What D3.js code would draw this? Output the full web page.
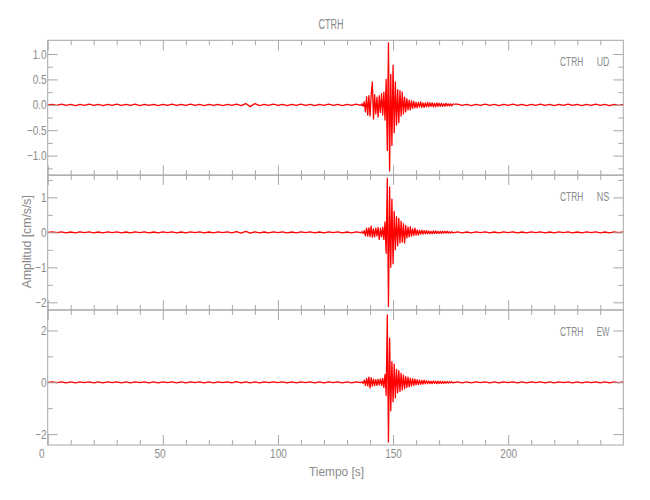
<!DOCTYPE html>
<html>
<head>
<meta charset="utf-8">
<script src="https://cdn.jsdelivr.net/npm/d3@7"></script>
<style>
  body { margin: 0; background: #fff; }
  svg { display: block; }
  text { font-family: "Liberation Sans", Arimo, "DejaVu Sans", sans-serif; fill: #8a8a8a; }
</style>
</head>
<body>
<svg id="chart" width="650" height="500"></svg>
<script>
// ---------------- data ----------------
const station = "CTRH";
const components = ["UD", "NS", "EW"];
const timeDomain = [0, 250];
const xMajorTicks = [0, 50, 100, 150, 200];
const xMinorTicks = [10, 20, 30, 40, 60, 70, 80, 90, 110, 120, 130, 140, 160, 170, 180, 190, 210, 220, 230, 240];

const preStart = 0, preStep = 2;           // quiet noise before the event
const eventStart = 136.5, eventStep = 0.5; // strong-motion window
const postStart = 178, postStep = 2;       // quiet noise after the event

// UD component [cm/s/s]
const udPre = [0,0.01,-0.01,0.015,-0.01,0.01,-0.015,0.01,-0.01,0.015,
  -0.01,0.01,-0.015,0.01,-0.01,0.015,-0.01,0.01,-0.01,0.015,
  -0.015,0.01,-0.01,0.01,-0.015,0.01,-0.01,0.015,-0.01,0.01,
  -0.01,0.015,-0.01,0.01,-0.015,0.01,-0.01,0.01,-0.015,0.01,
  -0.01,0.015,-0.015,0.025,-0.035,0.025,-0.015,0.01,-0.01,0.015,
  -0.01,0.01,-0.015,0.01,-0.01,0.015,-0.01,0.01,-0.015,0.01,
  -0.01,0.015,-0.01,0.01,-0.015,0.01,-0.01,0.015,-0.01];
const udEvent = [0.02,-0.03,0.06,-0.14,0.16,-0.2,0.18,-0.22,0.2,0.45,
  -0.28,0.2,-0.18,0.15,-0.24,0.18,-0.15,0.22,-0.2,0.25,
  -0.3,0.5,-0.9,1.22,-1.3,0.6,-0.8,0.78,-0.55,0.45,
  -0.4,0.3,-0.35,0.28,-0.22,0.25,-0.18,0.15,-0.14,0.12,
  -0.1,0.09,-0.1,0.08,-0.07,0.07,-0.06,0.05,-0.06,0.05,
  -0.04,0.06,-0.05,0.04,-0.05,0.04,-0.04,0.05,-0.04,0.04,
  -0.03,0.04,-0.04,0.03,-0.04,0.04,-0.03,0.03,-0.03,0.03,
  -0.03,0.02,-0.03,0.03,-0.02,0.02,-0.02,0.02,-0.02,0.015];
const udPost = [0.015,-0.01,0.01,-0.015,0.01,-0.01,0.015,-0.01,0.01,-0.015,
  0.01,-0.01,0.015,-0.01,0.01,-0.015,0.01,-0.01,0.015,-0.01,
  0.01,-0.015,0.01,-0.01,0.015,-0.01,0.01,-0.015,0.01,-0.01,
  0.015,-0.01,0.01,-0.015,0.01,-0.01,0.01];

// NS component [cm/s/s]
const nsPre = [0,0.015,-0.01,0.015,-0.015,0.01,-0.015,0.015,-0.01,0.015,
  -0.015,0.01,-0.015,0.015,-0.01,0.015,-0.015,0.01,-0.015,0.015,
  -0.01,0.015,-0.015,0.01,-0.015,0.015,-0.01,0.015,-0.015,0.01,
  -0.015,0.015,-0.01,0.015,-0.015,0.01,-0.015,0.015,-0.01,0.015,
  -0.015,0.02,-0.02,0.03,-0.02,0.015,-0.015,0.01,-0.015,0.015,
  -0.01,0.015,-0.015,0.01,-0.015,0.015,-0.01,0.015,-0.015,0.01,
  -0.015,0.015,-0.01,0.015,-0.015,0.01,-0.015,0.015,-0.01];
const nsEvent = [0.02,-0.03,0.05,-0.1,0.12,-0.11,0.13,-0.12,0.18,-0.14,
  0.1,-0.13,0.12,-0.1,0.14,-0.2,0.11,-0.13,0.15,-0.2,
  0.3,-0.6,1.55,-2.12,1.3,-1.0,0.95,-0.9,0.6,-0.5,
  0.45,-0.38,0.4,-0.3,0.32,-0.28,0.25,-0.3,0.2,-0.16,
  0.15,-0.13,0.16,-0.11,0.1,-0.09,0.12,-0.08,0.07,-0.08,
  0.06,-0.05,0.06,-0.05,0.05,-0.04,0.05,-0.04,0.04,-0.04,
  0.03,-0.04,0.04,-0.03,0.04,-0.03,0.03,-0.03,0.03,-0.03,
  0.03,-0.02,0.03,-0.02,0.03,-0.02,0.02,-0.02,0.02,-0.015];
const nsPost = [0.015,-0.015,0.01,-0.015,0.015,-0.01,0.015,-0.015,0.01,-0.015,
  0.015,-0.01,0.015,-0.015,0.01,-0.015,0.015,-0.01,0.015,-0.015,
  0.01,-0.015,0.015,-0.01,0.015,-0.015,0.01,-0.015,0.015,-0.01,
  0.015,-0.015,0.01,-0.015,0.015,-0.01,0.015];

// EW component [cm/s/s]
const ewPre = [0,0.02,-0.015,0.02,-0.02,0.015,-0.02,0.02,-0.015,0.02,
  -0.02,0.015,-0.02,0.02,-0.015,0.02,-0.02,0.015,-0.02,0.02,
  -0.015,0.02,-0.02,0.015,-0.02,0.02,-0.015,0.02,-0.02,0.015,
  -0.02,0.02,-0.015,0.02,-0.02,0.015,-0.02,0.02,-0.015,0.02,
  -0.02,0.025,-0.025,0.02,-0.02,0.015,-0.02,0.02,-0.015,0.02,
  -0.015,0.02,-0.02,0.015,-0.02,0.02,-0.015,0.02,-0.02,0.015,
  -0.02,0.02,-0.015,0.02,-0.02,0.015,-0.02,0.02,-0.015];
const ewEvent = [0.02,-0.04,0.08,-0.12,0.15,-0.14,0.2,-0.22,0.18,-0.15,
  0.12,-0.13,0.1,-0.12,0.11,-0.1,0.13,-0.12,0.15,-0.2,
  0.3,-0.5,2.6,-2.3,1.7,-1.1,0.8,-0.75,0.7,-0.6,
  0.5,-0.4,0.45,-0.35,0.35,-0.3,0.28,-0.25,0.22,-0.2,
  0.2,-0.18,0.15,-0.15,0.14,-0.12,0.12,-0.1,0.1,-0.09,
  0.08,-0.08,0.07,-0.07,0.08,-0.06,0.06,-0.05,0.05,-0.05,
  0.04,-0.05,0.05,-0.04,0.04,-0.05,0.04,-0.04,0.04,-0.04,
  0.03,-0.04,0.03,-0.03,0.03,-0.03,0.025,-0.02,0.025,-0.02];
const ewPost = [0.02,-0.02,0.015,-0.02,0.02,-0.015,0.02,-0.02,0.015,-0.02,
  0.02,-0.015,0.02,-0.02,0.015,-0.02,0.02,-0.015,0.02,-0.02,
  0.015,-0.02,0.02,-0.015,0.02,-0.02,0.015,-0.02,0.02,-0.015,
  0.02,-0.02,0.015,-0.02,0.02,-0.015,0.02];

// y-axis domains and ticks per panel
const yDomains = [[-1.387, 1.27], [-2.22, 1.64], [-2.42, 2.79]];
const yMajorTicks = [[-1, -0.5, 0, 0.5, 1], [-2, -1, 0, 1], [-2, 0, 2]];
const yMinorTicks = [[-1.25, -0.75, -0.25, 0.25, 0.75], [-1.5, -0.5, 0.5, 1.5], [-1, 1]];
const yTickFormats = [".1f", "d", "d"];

const titleText = "CTRH";
const xLabel = "Tiempo  [s]";
const yLabel = "Amplitud  [cm/s/s]";

// ---------------- drawing ----------------
const traces = [[udPre, udEvent, udPost], [nsPre, nsEvent, nsPost], [ewPre, ewEvent, ewPost]];

function buildSeries(parts) {
  const [pre, ev, post] = parts;
  const pts = [];
  pre.forEach((v, i) => pts.push([preStart + i * preStep, v]));
  ev.forEach((v, i) => pts.push([eventStart + i * eventStep, v]));
  post.forEach((v, i) => pts.push([postStart + i * postStep, v]));
  return pts;
}

const svg = d3.select("#chart");
const left = 47.7, right = 623.3;
const panelTops = [40.3, 175, 310];
const panelH = 135;
const axisColor = "#a8a8a8";
const textColor = "#8a8a8a";
const tickFont = 12.5, tickScaleX = 0.8;

const x = d3.scaleLinear().domain(timeDomain).range([left, right]);

function styleAxis(g) {
  g.select(".domain").remove();
  g.selectAll(".tick line").attr("stroke", axisColor).attr("stroke-width", 1);
  g.selectAll(".tick text").attr("fill", textColor)
    .attr("font-size", tickFont)
    .attr("font-family", '"Liberation Sans", Arimo, "DejaVu Sans", sans-serif')
    .attr("transform", `scale(${tickScaleX},1)`);
}

function addText(px, py, str, size, len, anchor, rotate) {
  const g = svg.append("g").attr("transform", `translate(${px},${py})` + (rotate ? ` rotate(${rotate})` : ""));
  g.append("text").attr("font-size", size).attr("fill", textColor)
    .attr("text-anchor", anchor)
    .attr("textLength", len).attr("lengthAdjust", "spacingAndGlyphs")
    .text(str);
}

panelTops.forEach((top, p) => {
  const bottom = top + panelH;
  const y = d3.scaleLinear().domain(yDomains[p]).range([bottom, top]);

  // trace
  const line = d3.line().x(d => x(d[0])).y(d => y(d[1]));
  svg.append("path")
    .datum(buildSeries(traces[p]))
    .attr("d", line)
    .attr("fill", "none")
    .attr("stroke", "#ff0000")
    .attr("stroke-width", 1.3)
    .attr("stroke-linejoin", "round");

  // frame
  svg.append("rect")
    .attr("x", left).attr("y", top)
    .attr("width", right - left).attr("height", panelH)
    .attr("fill", "none").attr("stroke", axisColor).attr("stroke-width", 1);

  // left y axis
  const fmt = d3.format(yTickFormats[p]);
  svg.append("g").attr("transform", `translate(${left},0)`)
    .call(d3.axisLeft(y).tickValues(yMajorTicks[p]).tickFormat(fmt).tickSize(-10).tickPadding(1.5))
    .call(styleAxis);
  svg.append("g").attr("transform", `translate(${left},0)`)
    .call(d3.axisLeft(y).tickValues(yMinorTicks[p]).tickFormat("").tickSize(-5))
    .call(styleAxis);
  // right y axis
  svg.append("g").attr("transform", `translate(${right},0)`)
    .call(d3.axisRight(y).tickValues(yMajorTicks[p]).tickFormat("").tickSize(-10))
    .call(styleAxis);
  svg.append("g").attr("transform", `translate(${right},0)`)
    .call(d3.axisRight(y).tickValues(yMinorTicks[p]).tickFormat("").tickSize(-5))
    .call(styleAxis);

  // top x ticks
  svg.append("g").attr("transform", `translate(0,${top})`)
    .call(d3.axisTop(x).tickValues(xMajorTicks).tickFormat("").tickSize(-10))
    .call(styleAxis);
  svg.append("g").attr("transform", `translate(0,${top})`)
    .call(d3.axisTop(x).tickValues(xMinorTicks).tickFormat("").tickSize(-5))
    .call(styleAxis);
  // bottom x ticks (labels only on last panel)
  const isLast = p === panelTops.length - 1;
  const gb = svg.append("g").attr("transform", `translate(0,${bottom})`)
    .call(d3.axisBottom(x).tickValues(xMajorTicks).tickFormat(isLast ? d3.format("d") : "").tickSize(-10).tickPadding(4))
    .call(styleAxis);
  if (isLast) {
    // the plotting program offsets the first short labels slightly to the left
    gb.selectAll(".tick text").attr("x", d => d === 0 ? -8 : (d === 50 ? -4 : 0));
  }
  svg.append("g").attr("transform", `translate(0,${bottom})`)
    .call(d3.axisBottom(x).tickValues(xMinorTicks).tickFormat("").tickSize(-5))
    .call(styleAxis);

  // component label
  addText(560, top + 26, station, 13.7, 23.3, "start");
  addText(596.7, top + 26, components[p], 13.7, 12.6, "start");
});

// title
addText(331, 29, titleText, 15.5, 25, "middle");

// x label
addText(336.5, 475.5, xLabel, 12.5, 55, "middle");

// y label
addText(30.5, 241.7, yLabel, 12.5, 93, "middle", -90);
</script>
</body>
</html>
